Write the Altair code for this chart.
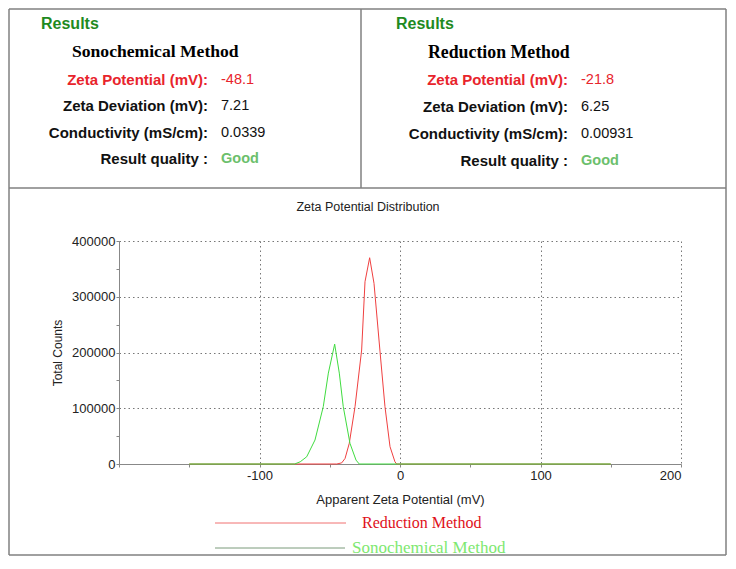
import altair as alt
import pandas as pd

# ---- data ----
series_names = ["Reduction Method", "Sonochemical Method"]
series_colors = ["#f04040", "#40dc40"]

red_mv = [-150, -45, -41.5, -39.1, -36.1, -32, -27.3, -24.9, -21.6, -18.5, -14.2, -10.7, -7.1, -3.6, -2.4, 150]
red_counts = [0, 0, 2000, 10000, 37000, 103000, 204500, 327000, 370000, 324000, 201000, 103000, 31000, 4000, 0, 0]

green_mv = [-150, -75, -71, -66.4, -60.5, -54.6, -51, -46.5, -43.2, -40.4, -35.6, -31.3, -29, 150]
green_counts = [0, 0, 4000, 13000, 43000, 103000, 163000, 215000, 163000, 103000, 37000, 7000, 0, 0]

x_ticks = [-200, -150, -100, -50, 0, 50, 100, 150, 200]
y_ticks = [0, 50000, 100000, 150000, 200000, 250000, 300000, 350000, 400000]

row_labels = ["Zeta Potential (mV):", "Zeta Deviation (mV):", "Conductivity (mS/cm):", "Result quality :"]
sono_values = ["-48.1", "7.21", "0.0339", "Good"]
red_values = ["-21.8", "6.25", "0.00931", "Good"]
label_colors = ["#e8242c", "#111111", "#111111", "#111111"]
value_colors = ["#e8242c", "#111111", "#111111", "#6cbf6c"]

# ---- build table ----
rows = []
for i, (m, c) in enumerate(zip(red_mv, red_counts)):
    rows.append({"series": series_names[0], "mv": m, "counts": c, "idx": i})
for i, (m, c) in enumerate(zip(green_mv, green_counts)):
    rows.append({"series": series_names[1], "mv": m, "counts": c, "idx": i})
df = pd.DataFrame(rows)

SANS = "Liberation Sans"
SERIF = "Liberation Serif"
one = pd.DataFrame({"a": [0]})

lines = alt.Chart(df).mark_line(strokeWidth=1).encode(
    x=alt.X("mv:Q", scale=alt.Scale(domain=[-200, 200], nice=False, zero=False),
            axis=alt.Axis(values=x_ticks, title="Apparent Zeta Potential (mV)",
                          labelExpr="(datum.value % 100 === 0 && datum.value > -200) ? ('' + datum.value) : ''",
                          gridOpacity={"condition": {"test": "datum.value % 100 === 0", "value": 1}, "value": 0},
                          titlePadding=11)),
    y=alt.Y("counts:Q", scale=alt.Scale(domain=[0, 400000], nice=False),
            axis=alt.Axis(values=y_ticks, title="Total Counts",
                          labelExpr="(datum.value % 100000 === 0) ? ('' + datum.value) : ''",
                          gridOpacity={"condition": {"test": "datum.value % 100000 === 0", "value": 1}, "value": 0},
                          titlePadding=7, titleFontSize=12, labelPadding=1)),
    color=alt.Color("series:N", scale=alt.Scale(domain=series_names, range=series_colors), legend=None),
    order="idx:Q",
)


def rule(x, x2, y, y2, color="#808080", width=1.5):
    return alt.Chart(one).mark_rule(color=color, strokeWidth=width).encode(
        x=alt.value(x), x2=alt.value(x2), y=alt.value(y), y2=alt.value(y2))


def text(s, x, y, size, color, font=SANS, weight="normal", align="left"):
    return alt.Chart(one).mark_text(text=s, font=font, fontSize=size, color=color,
                                    fontWeight=weight, align=align, baseline="middle").encode(
        x=alt.value(x), y=alt.value(y))


layers = [lines]

# frame boxes
L, T, R, B = -110, -232, 607, 314
layers += [
    rule(L, R, T, T), rule(L, R, B, B), rule(L, L, T, B), rule(R, R, T, B),
    rule(L, R, -53, -53), rule(242, 242, T, -53),
]

# chart title
layers.append(text("Zeta Potential Distribution", 249, -34, 12.5, "#222222", align="center"))

# left results panel
layers.append(text("Results", -78, -217, 16, "#1f8a1f", weight="bold"))
layers.append(text("Sonochemical Method", -47, -189, 17.6, "#000000", font=SERIF, weight="bold"))
left_ys = [-161, -135, -108, -82]
for lab, val, lc, vc, yy in zip(row_labels, sono_values, label_colors, value_colors, left_ys):
    layers.append(text(lab, 89, yy, 15, lc, weight="bold", align="right"))
    layers.append(text(val, 102, yy, 14.5, vc, weight="bold" if val == "Good" else "normal"))

# right results panel
layers.append(text("Results", 277, -217, 16, "#1f8a1f", weight="bold"))
layers.append(text("Reduction Method", 309, -188, 17.8, "#000000", font=SERIF, weight="bold"))
right_ys = [-161, -134, -107, -80]
for lab, val, lc, vc, yy in zip(row_labels, red_values, label_colors, value_colors, right_ys):
    layers.append(text(lab, 449, yy, 15, lc, weight="bold", align="right"))
    layers.append(text(val, 462, yy, 14.5, vc, weight="bold" if val == "Good" else "normal"))

# legend
layers.append(rule(96, 227, 282, 282, color="#f07070", width=1))
layers.append(text(series_names[0], 243, 282, 16, "#e0101a", font=SERIF))
layers.append(rule(96, 226, 307, 307, color="#7a9a7a", width=1))
layers.append(text(series_names[1], 233, 307, 17, "#7ee870", font=SERIF))

chart = alt.layer(*layers).properties(
    width=562, height=223,
    autosize=alt.AutoSizeParams(type="none"),
    padding={"left": 111, "top": 233, "right": 47, "bottom": 92},
).configure_view(stroke=None).configure_axis(
    domainColor="#888888", tickColor="#888888", tickSize=3,
    labelFont=SANS, labelFontSize=13, labelColor="#222222",
    titleFont=SANS, titleFontSize=13, titleColor="#222222", titleFontWeight="normal",
    gridColor="#777777", gridDash=[1.5, 3], gridWidth=1, labelPadding=2,
)

chart.save("out.html", embed_options={"renderer": "svg", "actions": False})
